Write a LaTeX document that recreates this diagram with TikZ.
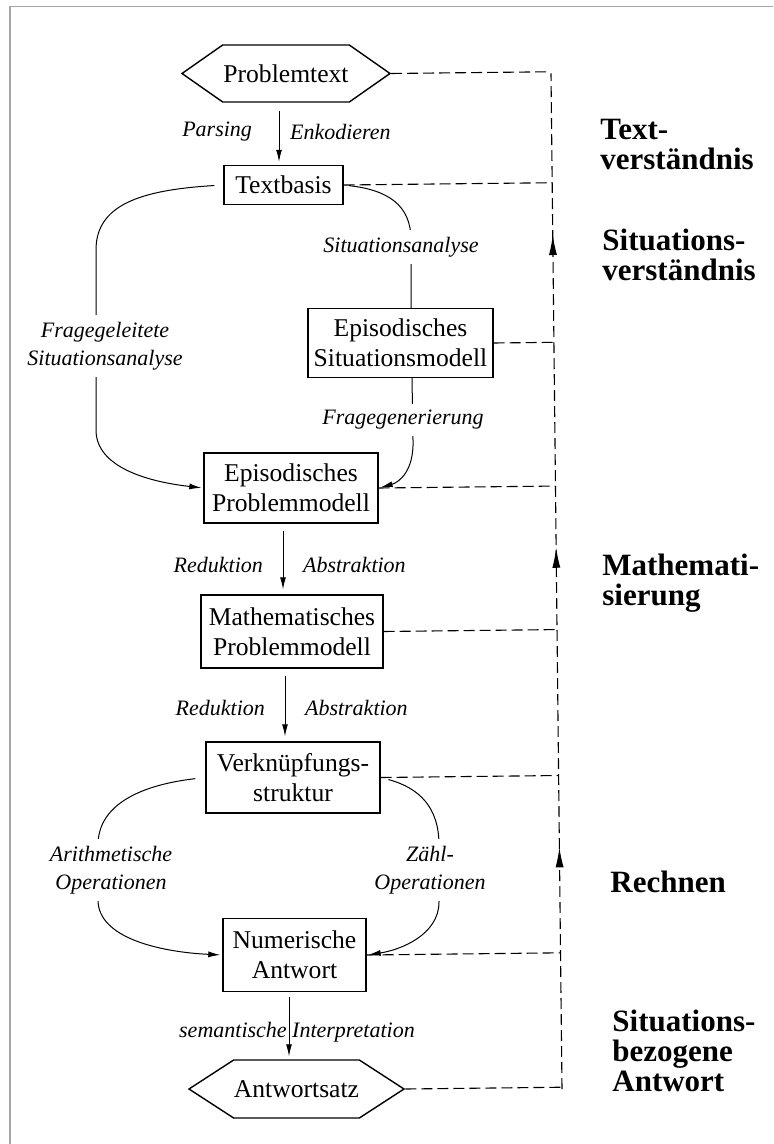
\documentclass[tikz,border=0pt]{standalone}
\usepackage{fontspec}
\setmainfont{Liberation Serif}
\usetikzlibrary{arrows.meta,calc,shapes.symbols,decorations.markings}

\tikzset{
  stage/.style={draw, line width=0.7pt, align=center, inner sep=0pt,
    font=\fontsize{12.8}{15}\selectfont},
  textend/.style={signal, signal to=west and east, draw, line width=0.7pt,
    inner sep=0pt, font=\fontsize{12.8}{15}\selectfont},
  proc/.style={font=\fontsize{11}{14}\selectfont\itshape, align=center},
  phase/.style={font=\fontsize{15.5}{15}\selectfont\bfseries, align=left,
    anchor=north west, inner sep=0pt},
  flow/.style={-{Latex[length=6pt,width=3pt]}, line width=0.5pt},
  link/.style={line width=0.5pt},
  back/.style={dash pattern=on 5.5pt off 2.5pt, line width=0.55pt},
}

\begin{document}
\begin{tikzpicture}[x=0.5pt, y=-0.5pt]
\useasboundingbox (0,0) rectangle (773,1144);
% frame of the scan
\draw[gray!70, line width=0.6pt] (10,1144) -- (10,6.5) -- (773,6.5);

% stages
\node[textend, signal pointer angle=70, minimum width=104pt, minimum height=28.5pt] (ptext) at (286,73.5) {Problemtext};
\node[stage, minimum width=59.5pt, minimum height=19.5pt] (tb) at (283.5,185) {Textbasis};
\node[stage, minimum width=92.5pt, minimum height=34.5pt] (esm) at (400.5,343) {Episodisches\\Situationsmodell};
\node[stage, minimum width=87pt, minimum height=35pt] (epm) at (291,488) {Episodisches\\Problemmodell};
\node[stage, minimum width=91pt, minimum height=36.5pt] (mpm) at (292,631.5) {Mathematisches\\Problemmodell};
\node[stage, minimum width=87pt, minimum height=35.5pt] (vk) at (293,777.5) {Verknüpfungs-\\struktur};
\node[stage, minimum width=71.5pt, minimum height=36.5pt] (na) at (294.5,955) {Numerische\\Antwort};
\node[textend, signal pointer angle=66, minimum width=107.5pt, minimum height=29pt] (asatz) at (296.5,1089) {Antwortsatz};

% straight steps
\draw[flow, shorten <=4pt, shorten >=1.5pt] ($(ptext.south)+(-7,0)$) -- ($(tb.north)+(-4.5,0)$);
\draw[flow, shorten <=3.5pt, shorten >=2.5pt] ($(epm.south)+(-8,0)$) -- ($(mpm.north)+(-9,0)$);
\draw[flow, shorten <=3.5pt, shorten >=2.5pt] ($(mpm.south)+(-7,0)$) -- ($(vk.north)+(-8,0)$);
\draw[flow, shorten <=2.5pt, shorten >=1.5pt] ($(na.south)+(-5.5,0)$) -- ($(asatz.north)+(-7.5,0)$);

% curved steps
\draw[flow, shorten <=4.5pt, shorten >=1pt] (tb.west) .. controls (140,190) and (96,205) .. (96,250)
  -- (96,430) .. controls (96,468) and (150,482) .. (epm.west);
\draw[link, shorten <=2.5pt] (tb.east) .. controls (388,190) and (411,205) .. (411,240)
  -- ($(esm.north)+(10.5,0)$);
\draw[flow, shorten >=1pt] ($(esm.south)+(11.5,0)$) -- (413,440)
  .. controls (414,470) and (400,482) .. (epm.east);
\draw[flow, shorten <=5pt, shorten >=1pt] (vk.west) .. controls (140,785) and (98,805) .. (98,845)
  -- (98,900) .. controls (98,938) and (160,952) .. (na.west);
\draw[flow, shorten <=4pt, shorten >=1pt] (vk.east) .. controls (420,788) and (439,808) .. (439,845)
  -- (439,902) .. controls (439,935) and (400,950) .. (na.east);

% step labels
\node[proc, anchor=east] (parse) at (259,132) {Parsing};
\node[proc, anchor=west] (enc) at (283,132) {Enkodieren};
\node[proc, fill=white] (sa) at (401,247) {Situationsanalyse};
\node[proc, fill=white] (fsa) at (105,346) {Fragegeleitete\\Situationsanalyse};
\node[proc, fill=white] (fg) at (403,420) {Fragegenerierung};
\node[proc, anchor=east] (red1) at (270,565) {Reduktion};
\node[proc, anchor=west] (abs1) at (296,565) {Abstraktion};
\node[proc, anchor=east] (red2) at (272,708) {Reduktion};
\node[proc, anchor=west] (abs2) at (298,708) {Abstraktion};
\node[proc, fill=white] (arith) at (111,870) {Arithmetische\\Operationen};
\node[proc, fill=white] (zaehl) at (430,870) {Zähl-\\Operationen};
\node[proc] (sem) at (297,1032) {semantische Interpretation};

% feedback line
\coordinate (vtop) at (551,73.5);
\coordinate (vbot) at (562,1089);
\draw[back, postaction={decorate}, decoration={markings,
    mark=at position 0.238 with {\arrow{Latex[length=10pt,width=4pt]}},
    mark=at position 0.533 with {\arrow{Latex[length=10pt,width=4pt]}},
    mark=at position 0.841 with {\arrow{Latex[length=10pt,width=4pt]}}}]
  (vbot) -- (vtop);
\foreach \n in {ptext,tb,esm,epm,mpm,vk,na,asatz}
  \draw[back] (\n.east) -- ($(vtop)!(\n.east)!(vbot)$);

% phases
\node[phase] (ph1) at (600,119) {Text-\\verständnis};
\node[phase] (ph2) at (602,229) {Situations-\\verständnis};
\node[phase] (ph3) at (602,554) {Mathemati-\\sierung};
\node[phase] (ph4) at (610,871) {Rechnen};
\node[phase] (ph5) at (612,1010) {Situations-\\bezogene\\Antwort};
\end{tikzpicture}
\end{document}
